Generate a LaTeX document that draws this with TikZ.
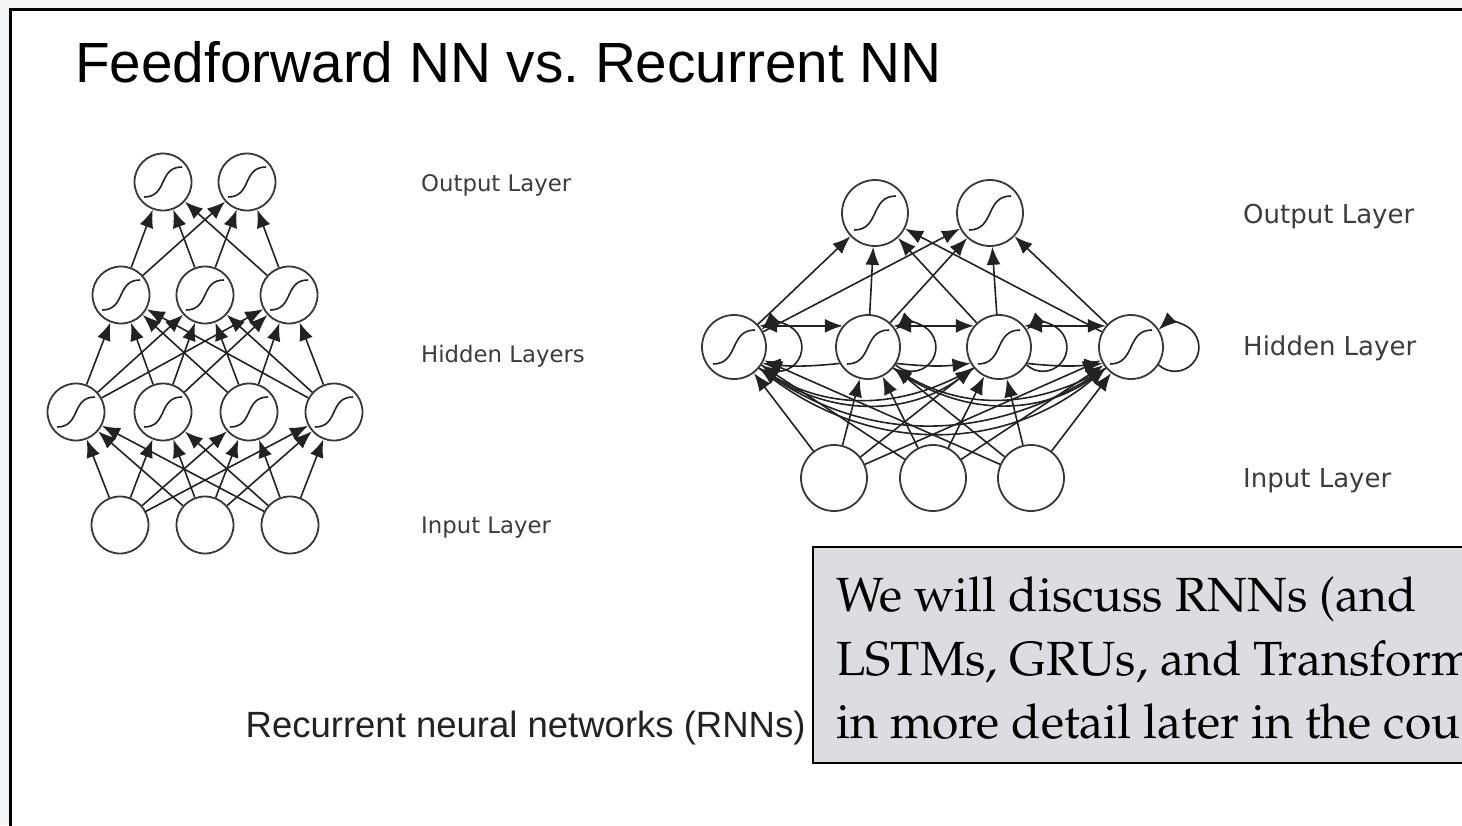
\documentclass[tikz,border=0pt]{standalone}
\usepackage[T1]{fontenc}
\usepackage{fontspec}
\setmainfont{Liberation Sans}
\newfontfamily\labfont{DejaVu Sans}
\newcommand\bodyserif{\fontencoding{T1}\fontfamily{ppl}\selectfont}
\usetikzlibrary{arrows.meta,calc}
\definecolor{pagegray}{HTML}{F3F4F6}
\definecolor{notegray}{HTML}{DCDDE0}
\definecolor{inkgray}{HTML}{222222}
\definecolor{labgray}{HTML}{3C3C3C}
\frenchspacing
\begin{document}
\begin{tikzpicture}[x=1pt,y=1pt,
  neuron/.style={circle, draw=inkgray!90, line width=1.8pt, fill=white, inner sep=0pt, minimum size=#1},
  link/.style={line width=1.6pt, draw=inkgray, -{Latex[length=18pt,width=14pt]}},
  twoway/.style={line width=1.6pt, draw=inkgray, {Latex[length=18pt,width=14pt]}-{Latex[length=18pt,width=14pt]}},
  sigline/.style={line width=1.6pt, draw=inkgray},
  layerlab/.style={anchor=base west, inner sep=0pt, text=labgray},
]
\useasboundingbox (0,-825) rectangle (1462,0);
\clip (0,-825) rectangle (1462,0);

% slide page and frame
\fill[pagegray] (0,-825) rectangle (1462,0);
\fill[white] (10.7,-9.5) rectangle (1470,-830);
\draw[line width=3pt, black] (10.7,-830) -- (10.7,-9.5) -- (1470,-9.5);

% title
\node[anchor=base west, inner sep=0pt, font=\fontsize{56.7}{60}\selectfont] (title) at (75,-82) {Feedforward NN vs. Recurrent NN};

% ---------------- feedforward network ----------------
\node[neuron=57pt] (lo1) at (163,-182) {};
\node[neuron=57pt] (lo2) at (247,-182) {};
\node[neuron=57pt] (lg1) at (121,-295) {};
\node[neuron=57pt] (lg2) at (205,-295) {};
\node[neuron=57pt] (lg3) at (289,-295) {};
\node[neuron=57pt] (lf1) at (76,-412) {};
\node[neuron=57pt] (lf2) at (163,-412) {};
\node[neuron=57pt] (lf3) at (249,-412) {};
\node[neuron=57pt] (lf4) at (334,-412) {};
\node[neuron=57pt] (li1) at (120,-525) {};
\node[neuron=57pt] (li2) at (205,-525) {};
\node[neuron=57pt] (li3) at (290,-525) {};

\foreach \a in {li1,li2,li3}
  \foreach \b in {lf1,lf2,lf3,lf4}
    \draw[link] (\a) -- (\b);
\foreach \a in {lf1,lf2,lf3,lf4}
  \foreach \b in {lg1,lg2,lg3}
    \draw[link] (\a) -- (\b);
\foreach \a in {lg1,lg2,lg3}
  \foreach \b in {lo1,lo2}
    \draw[link] (\a) -- (\b);

\foreach \n in {lo1,lo2,lg1,lg2,lg3,lf1,lf2,lf3,lf4}
  \draw[sigline] ($(\n)+(-19,-15)$) .. controls ($(\n)+(5,-15)$) and ($(\n)+(-5,15)$) .. ($(\n)+(19,15)$);

\node[layerlab, font=\labfont\fontsize{22.8}{26}\selectfont] (lout) at (421,-191) {Output Layer};
\node[layerlab, font=\labfont\fontsize{22.8}{26}\selectfont] (lhid) at (421,-362) {Hidden Layers};
\node[layerlab, font=\labfont\fontsize{22.8}{26}\selectfont] (linp) at (421,-533) {Input Layer};

% ---------------- recurrent network ----------------
\node[neuron=66pt] (ro1) at (875,-213) {};
\node[neuron=66pt] (ro2) at (990,-213) {};
\node[neuron=64pt] (h1) at (734,-347) {};
\node[neuron=64pt] (h2) at (868,-347) {};
\node[neuron=64pt] (h3) at (999,-347) {};
\node[neuron=64pt] (h4) at (1131,-347) {};
\node[neuron=66pt] (ri1) at (834,-478) {};
\node[neuron=66pt] (ri2) at (933,-478) {};
\node[neuron=66pt] (ri3) at (1031,-478) {};

\foreach \a in {ri1,ri2,ri3}
  \foreach \b in {h1,h2,h3,h4}
    \draw[link] (\a) -- (\b);
\foreach \a in {h1,h2,h3,h4}
  \foreach \b in {ro1,ro2}
    \draw[link] (\a) -- (\b);

% recurrent links between neighbouring hidden units
\draw[twoway] (h1.40) -- (h2.140);
\draw[twoway] (h2.40) -- (h3.140);
\draw[twoway] (h3.40) -- (h4.140);
\draw[link] (h2.-150) to[bend left=6] (h1.-30);
\draw[link] (h2.-30) to[bend right=6] (h3.-150);
\draw[link] (h3.-30) to[bend right=6] (h4.-150);

% recurrent links between distant hidden units
\draw[link] (h3.-140) to[bend left=30] (h1.-40);
\draw[link] (h1.-40) to[bend right=36] (h3.-140);
\draw[link] (h4.-140) to[bend left=34] (h1.-40);
\draw[link] (h1.-40) to[bend right=40] (h4.-140);
\draw[link] (h4.-140) to[bend left=30] (h2.-40);
\draw[link] (h2.-40) to[bend right=36] (h4.-140);

% self loops
\foreach \n in {h1,h2,h3,h4}
  \draw[link] (\n.-33.4) arc[start angle=-132.8, end angle=132.8, radius=24];

\foreach \n in {ro1,ro2,h1,h2,h3,h4}
  \draw[sigline] ($(\n)+(-21,-17)$) .. controls ($(\n)+(5,-17)$) and ($(\n)+(-5,17)$) .. ($(\n)+(21,17)$);

\node[layerlab, font=\labfont\fontsize{26}{30}\selectfont] (rout) at (1243,-223.5) {Output Layer};
\node[layerlab, font=\labfont\fontsize{26}{30}\selectfont] (rhid) at (1243,-355.5) {Hidden Layer};
\node[layerlab, font=\labfont\fontsize{26}{30}\selectfont] (rinp) at (1243,-487.5) {Input Layer};

% caption
\node[anchor=base west, inner sep=0pt, text=inkgray, font=\fontsize{36.5}{40}\selectfont] (cap) at (245.5,-737) {Recurrent neural networks (RNNs)};

% note box
\draw[fill=notegray, line width=2pt, draw=black] (813,-547) rectangle (1480,-763);
\node[anchor=base west, inner sep=0pt, font=\bodyserif\fontsize{48}{64}\selectfont] (note1) at (836,-611) {We will discuss RNNs (and};
\node[anchor=base west, inner sep=0pt, font=\bodyserif\fontsize{48}{64}\selectfont] (note2) at (836,-675) {LSTMs, GRUs, and Transform};
\node[anchor=base west, inner sep=0pt, font=\bodyserif\fontsize{48}{64}\selectfont] (note3) at (836,-738) {in more detail later in the cou};
\end{tikzpicture}
\end{document}
